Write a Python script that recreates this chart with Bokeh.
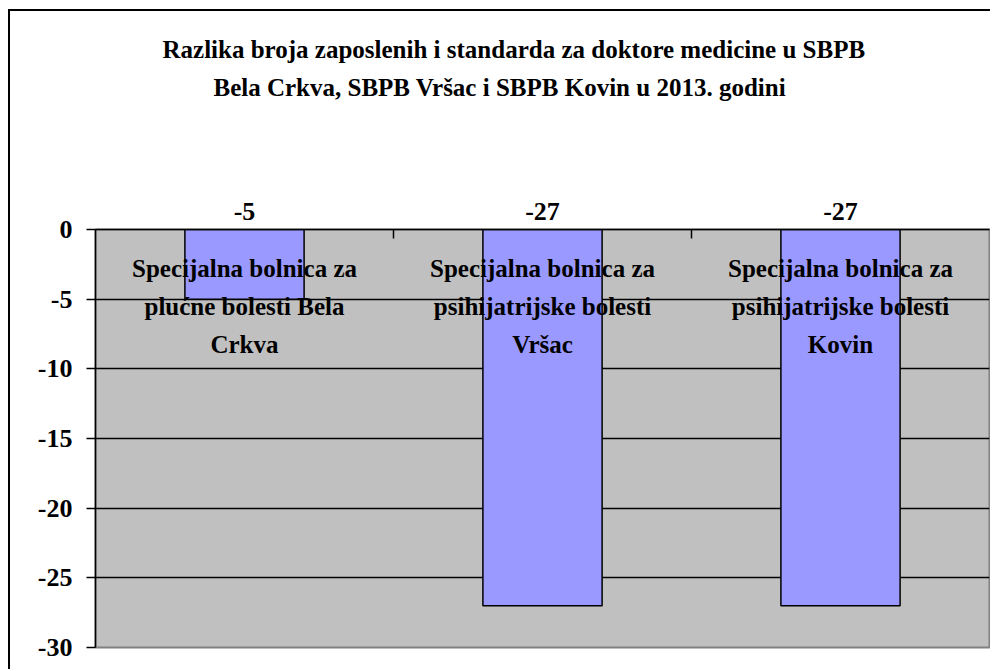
from bokeh.plotting import figure
from bokeh.models import ColumnDataSource, LinearAxis, Range1d, FixedTicker, Title
from bokeh.core.properties import value
from bokeh.embed import file_html
from bokeh.resources import INLINE

# ---- data ----
categories = [
    "Specijalna bolnica za\nplućne bolesti Bela\nCrkva",
    "Specijalna bolnica za\npsihijatrijske bolesti\nVršac",
    "Specijalna bolnica za\npsihijatrijske bolesti\nKovin",
]
values = [-5, -27, -27]
y_ticks = [0, -5, -10, -15, -20, -25, -30]
title_lines = [
    "Razlika broja zaposlenih i standarda za doktore medicine u  SBPB",
    "Bela Crkva, SBPB Vršac i SBPB Kovin u 2013. godini",
]

FONT = value("Liberation Serif")
n = len(categories)
xpos = [i + 0.5 for i in range(n)]   # category slot centres

source = ColumnDataSource(dict(xpos=xpos, cat=categories, val=values))

p = figure(
    width=982, height=660,
    x_range=Range1d(0, n),
    y_range=Range1d(min(y_ticks), max(y_ticks)),
    x_axis_location="above",
    title=None,
    output_backend="svg", toolbar_location=None,
    min_border_left=85, min_border_right=3, min_border_top=218, min_border_bottom=24,
    background_fill_color="#C0C0C0", border_fill_color="white",
    outline_line_color="#808080", outline_line_width=2,
    styles={"border-left": "2px solid black", "border-top": "2px solid black",
            "margin-left": "8px", "margin-top": "9px"},
)

# top axis with inward tick marks at category boundaries
xa = p.xaxis[0]
xa.ticker = FixedTicker(ticks=list(range(1, n)))
xa.major_tick_in = 9
xa.major_tick_out = 0
xa.major_tick_line_color = "black"
xa.major_tick_line_width = 1.5
xa.minor_tick_line_color = None
xa.axis_line_color = "black"
xa.axis_line_width = 1.5
xa.major_label_text_font_size = "0px"
xa.major_label_text_color = None
xa.major_label_standoff = 0

# data labels (bar values) shown above each category slot;
# its (unpainted) axis label only reserves the gap below the title
value_axis = LinearAxis(
    ticker=FixedTicker(ticks=xpos),
    major_label_overrides={x: str(v) for x, v in zip(xpos, values)},
    axis_line_color=None, major_tick_line_color=None, minor_tick_line_color=None,
    major_tick_in=0, major_tick_out=0, major_label_standoff=10,
    major_label_text_font="Liberation Serif", major_label_text_font_style="bold",
    major_label_text_font_size="26px", major_label_text_color="black",
    axis_label="x", axis_label_text_color=None, axis_label_text_font_size="10px",
    axis_label_standoff=81,
)
p.add_layout(value_axis, "above")

# title: two lines (second line added first: nearest the plot)
title_offsets = [67, 118]
title_standoffs = [10, 8]
for i in (1, 0):
    p.add_layout(Title(text=title_lines[i], align="left", offset=title_offsets[i],
                       standoff=title_standoffs[i],
                       text_font="Liberation Serif", text_font_style="bold",
                       text_font_size="25px", text_color="black"), "above")

# left axis
ya = p.yaxis[0]
ya.ticker = FixedTicker(ticks=y_ticks)
ya.major_label_overrides = {t: str(t) for t in y_ticks}
ya.major_tick_out = 9
ya.major_tick_in = 0
ya.minor_tick_line_color = None
ya.major_tick_line_color = "black"
ya.major_tick_line_width = 1.5
ya.axis_line_color = "black"
ya.axis_line_width = 1.5
ya.major_label_text_font = "Liberation Serif"
ya.major_label_text_font_style = "bold"
ya.major_label_text_font_size = "26px"
ya.major_label_text_color = "black"
ya.major_label_standoff = 14

p.ygrid.ticker = FixedTicker(ticks=y_ticks)
p.ygrid.grid_line_color = "black"
p.ygrid.grid_line_width = 1.5
p.xgrid.visible = False

# bars
p.vbar(x="xpos", top="val", bottom=0, width=0.4, source=source,
       fill_color="#9999FF", line_color="black", line_width=1.5)

# category labels inside the plot area
p.text(x="xpos", y=0, text="cat", source=source,
       text_font=FONT, text_font_style="bold", text_font_size="25px",
       text_align="center", text_baseline="top", text_line_height=1.41,
       text_color="black", y_offset=25)

open("out.html", "w").write(file_html(p, INLINE))
